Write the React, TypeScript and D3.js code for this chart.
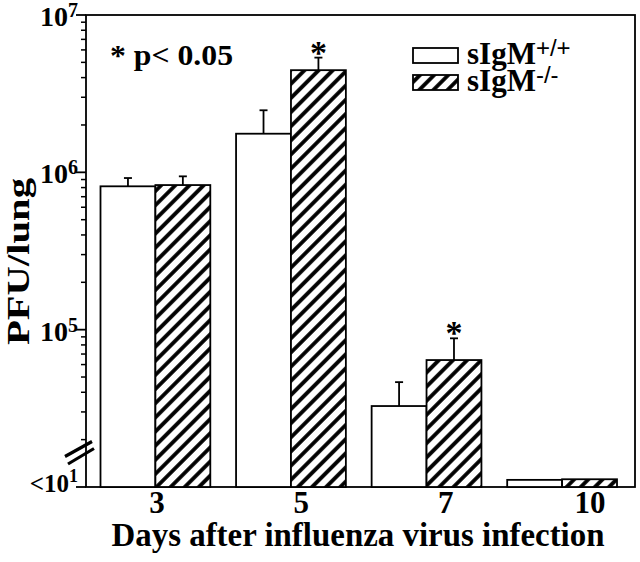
import React from 'react';
import * as d3 from 'd3';

// days after infection, PFU per lung (bottom of the axis = "<10")
const days = ['3', '5', '7', '10'];
const wildType = [8.15e5, 1.76e6, 3.27e4, 1.11e4];
const wildTypeErr = [9.2e5, 2.48e6, 4.64e4, null];
const knockout = [8.3e5, 4.46e6, 6.41e4, 1.12e4];
const knockoutErr = [9.43e5, 5.36e6, 8.81e4, null];
const significant = [false, true, true, false];
const majorExps = [5, 6, 7];
const seriesNames = ['sIgM', 'sIgM'];
const seriesSups = ['+/+', '-/-'];

const width = 640;
const height = 562;
const frame = { left: 86, right: 635, top: 15, bottom: 487 };
const serif = { fontFamily: 'Liberation Serif, serif', fontWeight: 'bold' as const };
const sans = { fontFamily: 'Liberation Sans, sans-serif', fontWeight: 'normal' as const };

const App = () => {
  const y = d3.scaleLog().domain([1e4, 1e7]).range([frame.bottom, frame.top]);
  const x = d3.scaleBand().domain(days).range([100.5, 617]).paddingInner(0.19).paddingOuter(0);
  const sub = d3.scaleBand().domain(['wt', 'ko']).range([0, x.bandwidth()]);
  const labelX = d3.scalePoint().domain(days).range([157, 590]);

  const minor = y.ticks().filter(t => {
    const e = Math.log10(t);
    return Math.abs(e - Math.round(e)) > 1e-6;
  });

  const series = [
    { key: 'wt', vals: wildType, errs: wildTypeErr, fill: 'white' },
    { key: 'ko', vals: knockout, errs: knockoutErr, fill: 'url(#hatch)' }
  ];

  return (
    <svg width={width} height={height} style={{ display: 'block', position: 'absolute', left: 0, top: 0 }}>
      <defs>
        <pattern id="hatch" patternUnits="userSpaceOnUse" width="10" height="10" patternTransform="rotate(45)">
          <rect width="10" height="10" fill="white" />
          <line x1="5" y1="0" x2="5" y2="10" stroke="black" strokeWidth="3.8" />
        </pattern>
      </defs>
      <rect width={width} height={height} fill="white" />

      {/* frame */}
      <rect x={frame.left} y={frame.top} width={frame.right - frame.left} height={frame.bottom - frame.top}
        fill="none" stroke="black" strokeWidth={1.8} />

      {/* bars */}
      {series.map(s => (
        <g key={s.key}>
          {days.map((d, i) => {
            const bx = x(d) + sub(s.key);
            const top = y(s.vals[i]);
            const cx = bx + sub.bandwidth() / 2;
            return (
              <g key={d}>
                <rect x={bx} y={top} width={sub.bandwidth()} height={frame.bottom - top}
                  fill={s.fill} stroke="black" strokeWidth={1.8} />
                {s.errs[i] != null && (
                  <g stroke="black" strokeWidth={1.8}>
                    <line x1={cx} x2={cx} y1={top} y2={y(s.errs[i])} />
                    <line x1={cx - 4} x2={cx + 4} y1={y(s.errs[i])} y2={y(s.errs[i])} />
                  </g>
                )}
                {s.key === 'ko' && significant[i] && (
                  <text x={cx} y={y(s.errs[i]) + 6} textAnchor="middle" style={serif} fontSize={34}>*</text>
                )}
              </g>
            );
          })}
        </g>
      ))}

      {/* y axis ticks */}
      {minor.map(t => (
        <line key={t} x1={frame.left - 5} x2={frame.left} y1={y(t)} y2={y(t)} stroke="black" strokeWidth={1.5} />
      ))}
      {majorExps.map(e => (
        <g key={e}>
          <line x1={frame.left - 10} x2={frame.left} y1={y(Math.pow(10, e))} y2={y(Math.pow(10, e))}
            stroke="black" strokeWidth={1.8} />
          <text x={frame.left - 8} y={y(Math.pow(10, e)) + 11} textAnchor="end" style={serif}>
            <tspan fontSize={28}>10</tspan>
            <tspan fontSize={20} dy={-9}>{e}</tspan>
          </text>
        </g>
      ))}
      <line x1={frame.left - 10} x2={frame.left} y1={frame.bottom} y2={frame.bottom} stroke="black" strokeWidth={1.8} />
      <text x={frame.left - 8} y={frame.bottom + 5} textAnchor="end" style={serif}>
        <tspan fontSize={25}>{'<10'}</tspan>
        <tspan fontSize={18} dy={-10}>1</tspan>
      </text>

      {/* axis break */}
      <g stroke="black" strokeWidth={3.2}>
        <line x1={65} y1={456.5} x2={92} y2={441.5} />
        <line x1={68} y1={464} x2={94} y2={448.5} />
      </g>

      {/* x tick labels */}
      {days.map(d => (
        <text key={d} x={labelX(d)} y={513} textAnchor="middle" style={serif} fontSize={31}>{d}</text>
      ))}
      <text x={358} y={546} textAnchor="middle" style={serif} fontSize={33}
        textLength={493} lengthAdjust="spacingAndGlyphs">Days after influenza virus infection</text>
      <text transform={`translate(29,261.5) rotate(-90)`} textAnchor="middle" style={serif}
        fontSize={31} textLength={167} lengthAdjust="spacingAndGlyphs">PFU/lung</text>

      {/* significance note */}
      <text x={110} y={65} style={serif} fontSize={29} textLength={123}
        lengthAdjust="spacingAndGlyphs">* p&lt; 0.05</text>

      {/* legend */}
      {series.map((s, i) => (
        <g key={s.key} transform={`translate(413,${48 + i * 27})`}>
          <rect x={0} y={0} width={45} height={15} fill={s.fill} stroke="black" strokeWidth={1.8} />
          <text x={54} y={16} style={serif}>
            <tspan fontSize={31}>{seriesNames[i]}</tspan>
            <tspan fontSize={24} dy={-8} style={sans}>{seriesSups[i]}</tspan>
          </text>
        </g>
      ))}
    </svg>
  );
};

export default App;
